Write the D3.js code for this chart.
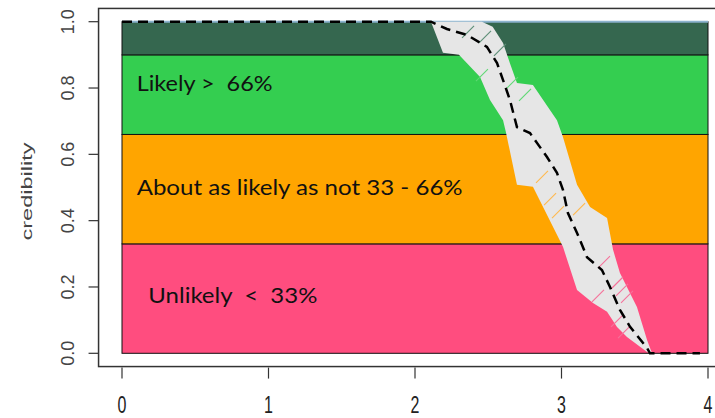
<!DOCTYPE html>
<html>
<head>
<meta charset="utf-8">
<script src="https://cdn.jsdelivr.net/npm/d3@7"></script>
<style>
  html, body { margin: 0; padding: 0; background: #fff; }
  svg { display: block; }
  text { white-space: pre; }
</style>
</head>
<body>
<svg id="chart" width="715" height="418"></svg>
<script>
// Axis ticks
const xTicks = [0, 1, 2, 3, 4];
const yTicks = [0, 0.2, 0.4, 0.6, 0.8, 1.0];

// Credibility zones (bottom to top)
const zoneLower = [0, 0.33, 0.66, 0.9];
const zoneUpper = [0.33, 0.66, 0.9, 1.0];
const zoneLabels = ["Unlikely  <  33%", "About as likely as not 33 - 66%", "Likely >  66%", ""];
const zoneColors = ["#FF4D7F", "#FFA500", "#34CE50", "#35674F"];
const hatchColors = ["#F5729A", "#FFB84D", "#5FD874", "#5E8F78"];

// Uncertainty band: upper edge
const bandUpperX = [2.109, 2.457, 2.530, 2.601, 2.648, 2.696, 2.805, 2.969, 3.010, 3.106, 3.195, 3.311, 3.352, 3.399, 3.515, 3.584, 3.618];
const bandUpperC = [1.000, 1.000, 0.985, 0.936, 0.875, 0.815, 0.809, 0.703, 0.652, 0.508, 0.441, 0.408, 0.312, 0.242, 0.140, 0.040, 0.000];
// Uncertainty band: lower edge
const bandLowerX = [2.109, 2.191, 2.300, 2.444, 2.512, 2.601, 2.621, 2.696, 2.805, 3.010, 3.106, 3.215, 3.311, 3.379, 3.447, 3.584, 3.618];
const bandLowerC = [1.000, 0.906, 0.900, 0.833, 0.764, 0.703, 0.666, 0.508, 0.502, 0.321, 0.191, 0.152, 0.125, 0.079, 0.049, 0.004, 0.000];

// Central credibility curve
const meanX = [0, 2.109, 2.218, 2.355, 2.491, 2.560, 2.601, 2.648, 2.696, 2.785, 2.901, 2.969, 3.010, 3.044, 3.106, 3.174, 3.276, 3.331, 3.399, 3.468, 3.584, 3.604, 3.945];
const meanC = [1.000, 1.000, 0.978, 0.960, 0.924, 0.875, 0.824, 0.764, 0.682, 0.664, 0.592, 0.544, 0.493, 0.423, 0.363, 0.290, 0.251, 0.200, 0.131, 0.080, 0.016, 0.000, 0.000];

// Hatch strokes inside the band
const hatchX = [2.362, 2.478, 2.580, 2.457, 2.662, 2.751, 2.867, 2.922, 2.976, 3.120, 3.290, 3.249, 3.379, 3.413, 3.447, 3.379, 3.427];
const hatchC = [0.969, 0.954, 0.915, 0.839, 0.815, 0.779, 0.532, 0.465, 0.426, 0.435, 0.275, 0.173, 0.212, 0.191, 0.170, 0.098, 0.064];

const svg = d3.select("#chart");

const x = d3.scaleLinear().domain([0, 4]).range([122, 708]);
const y = d3.scaleLinear().domain([0, 1]).range([353.3, 21.7]);

// Plot frame (4% padding around the data range)
svg.append("rect")
  .attr("x", x(-0.16)).attr("y", y(1.04))
  .attr("width", x(4.16) - x(-0.16)).attr("height", y(-0.04) - y(1.04))
  .attr("fill", "none").attr("stroke", "#333").attr("stroke-width", 1.5);

// Zone rectangles
const zones = zoneLower.map((lo, i) => ({ lo, hi: zoneUpper[i], label: zoneLabels[i], color: zoneColors[i], hatch: hatchColors[i] }));
svg.append("g").selectAll("rect").data(zones).join("rect")
  .attr("x", x(0)).attr("width", x(4) - x(0))
  .attr("y", d => y(d.hi)).attr("height", d => y(d.lo) - y(d.hi))
  .attr("fill", d => d.color)
  .attr("stroke", "#111").attr("stroke-width", 1);

// Light line along the top boundary
svg.append("line")
  .attr("x1", x(0)).attr("x2", x(4)).attr("y1", y(1)).attr("y2", y(1))
  .attr("stroke", "#8DB4CF").attr("stroke-width", 2);

// Band polygon
const upperPts = bandUpperX.map((v, i) => [x(v), y(bandUpperC[i])]);
const lowerPts = bandLowerX.map((v, i) => [x(v), y(bandLowerC[i])]).reverse();
svg.append("path")
  .attr("d", d3.line()(upperPts.concat(lowerPts)) + "Z")
  .attr("fill", "#E6E6E6").attr("stroke", "none");

// Hatching, coloured by the zone it falls in
const zoneAt = c => zones.find(z => c >= z.lo && c < z.hi) || zones[3];
const h = 6;
svg.append("g").selectAll("line").data(hatchX.map((v, i) => [v, hatchC[i]])).join("line")
  .attr("x1", d => x(d[0]) - h).attr("y1", d => y(d[1]) + h)
  .attr("x2", d => x(d[0]) + h).attr("y2", d => y(d[1]) - h)
  .attr("stroke", d => zoneAt(d[1]).hatch)
  .attr("stroke-width", 1.1);

// Central curve
svg.append("path")
  .attr("d", d3.line()(meanX.map((v, i) => [x(v), y(meanC[i])])))
  .attr("fill", "none").attr("stroke", "#000")
  .attr("stroke-width", 2.5).attr("stroke-dasharray", "10,6");

// Zone labels
const labelLayout = [
  { x: 0.18, c: 0.152, len: 169 },
  { x: 0.10, c: 0.477, len: 326 },
  { x: 0.10, c: 0.791, len: 136 }
];
svg.append("g").selectAll("text").data(labelLayout).join("text")
  .attr("x", d => x(d.x)).attr("y", d => y(d.c))
  .attr("textLength", d => d.len).attr("lengthAdjust", "spacingAndGlyphs")
  .attr("font-family", "Lato, 'Open Sans', sans-serif")
  .attr("font-size", 21).attr("fill", "#111")
  .text((d, i) => zones[i].label);

// Y axis ticks and labels
const yAxis = svg.append("g").attr("transform", `translate(${x(-0.16)},0)`);
yAxis.selectAll("line").data(yTicks).join("line")
  .attr("x1", -10).attr("x2", 0)
  .attr("y1", d => y(d)).attr("y2", d => y(d))
  .attr("stroke", "#333").attr("stroke-width", 1.2);
yAxis.selectAll("text").data(yTicks).join("text")
  .attr("transform", d => `translate(-25,${y(d)}) rotate(-90)`)
  .attr("text-anchor", "middle")
  .attr("font-family", "'Liberation Sans', Arial, sans-serif")
  .attr("font-size", 18).attr("fill", "#444")
  .text(d3.format(".1f"));

svg.append("text")
  .attr("transform", `translate(32,${(y(0) + y(1)) / 2 + 4}) rotate(-90)`)
  .attr("text-anchor", "middle")
  .attr("textLength", 98).attr("lengthAdjust", "spacingAndGlyphs")
  .attr("font-family", "'Liberation Sans', Arial, sans-serif")
  .attr("font-size", 15).attr("fill", "#444")
  .text("credibility");

// X axis ticks and labels
const xAxis = svg.append("g").attr("transform", `translate(0,${y(-0.04)})`);
xAxis.selectAll("line").data(xTicks).join("line")
  .attr("x1", d => x(d)).attr("x2", d => x(d))
  .attr("y1", 1).attr("y2", 12)
  .attr("stroke", "#333").attr("stroke-width", 1.2);
xAxis.selectAll("text").data(xTicks).join("text")
  .attr("transform", d => `translate(${x(d)},46) scale(1,1.5)`)
  .attr("text-anchor", "middle")
  .attr("font-family", "'Liberation Sans', Arial, sans-serif")
  .attr("font-size", 16).attr("fill", "#222")
  .text(d => d);
</script>
</body>
</html>
